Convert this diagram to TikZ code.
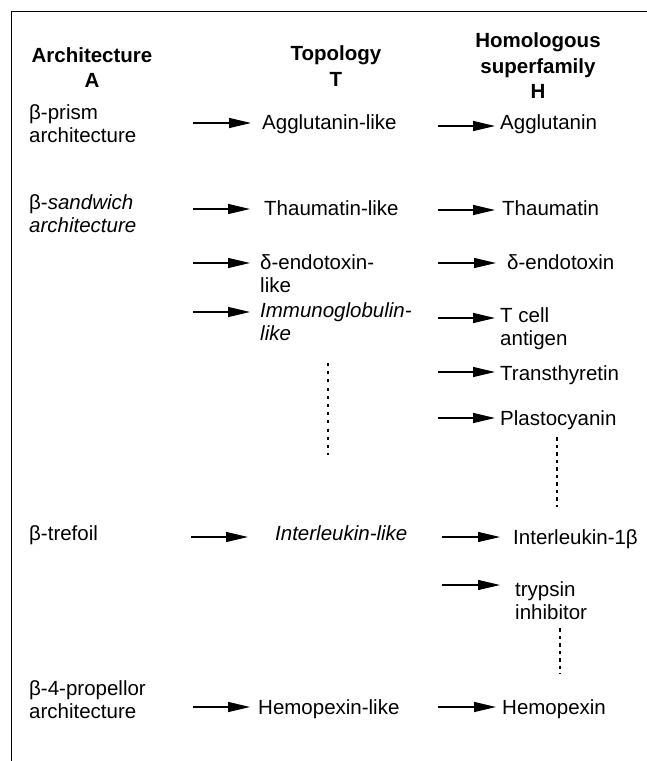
\documentclass[tikz,border=0pt]{standalone}
\usepackage{fontspec}
\setmainfont{Liberation Sans}
\usetikzlibrary{arrows.meta}
\begin{document}
\begin{tikzpicture}[x=1pt,y=-1pt,
  txt/.style={inner sep=0pt, anchor=base west, align=left, font=\fontsize{20.5}{23.5}\selectfont},
  hdr/.style={inner sep=0pt, anchor=base, align=center, font=\fontsize{20.5}{25.5}\selectfont\bfseries},
  arr/.style={line width=1.3pt, -{Triangle[length=22pt,width=10pt]}},
  dotbig/.style={line width=2.6pt, dash pattern=on 3pt off 5.2pt},
  dotsmall/.style={line width=2pt, dash pattern=on 3.5pt off 4pt},
  frame/.style={line width=1pt}]
\useasboundingbox (0,0) rectangle (647,761);
% frame
\draw[frame] (647,11.7) -- (11.7,11.7) -- (11.7,761);
% headers (base anchor = baseline of last line)
\node[hdr] (hA) at (92,87.5) {Architecture\\A};
\node[hdr] (hT) at (336,86) {Topology\\T};
\node[hdr] (hH) at (538,98.5) {Homologous\\superfamily\\H};
% architecture column
\node[txt] (a1) at (29,142.5) {β-prism\\architecture};
\node[txt] (a2) at (29,232.5) {β-\textit{sandwich}\\\textit{architecture}};
\node[txt] (a3) at (29,540) {β-trefoil};
\node[txt] (a4) at (29,718.5) {β-4-propellor\\architecture};
% topology column
\node[txt] (t1) at (262,129) {Agglutanin-like};
\node[txt] (t2) at (264,215) {Thaumatin-like};
\node[txt] (t3) at (260,292.5) {δ-endotoxin-\\like};
\node[txt] (t4) at (260,340.5) {\textit{Immunoglobulin-}\\\textit{like}};
\node[txt] (t5) at (275,540) {\textit{Interleukin-like}};
\node[txt] (t6) at (258,714) {Hemopexin-like};
% homologous superfamily column
\node[txt] (h1) at (500,129) {Agglutanin};
\node[txt] (h2) at (502,215) {Thaumatin};
\node[txt] (h3) at (507,269) {δ-endotoxin};
\node[txt] (h4) at (500,345.5) {T cell\\antigen};
\node[txt] (h5) at (500,380) {Transthyretin};
\node[txt] (h6) at (500,425) {Plastocyanin};
\node[txt] (h7) at (513,544) {Interleukin-1β};
\node[txt] (h8) at (515,619.5) {trypsin\\inhibitor};
\node[txt] (h9) at (502,714) {Hemopexin};
% arrow start points
\coordinate (s1) at (193,123);
\coordinate (s2) at (193,209);
\coordinate (s3) at (193,263);
\coordinate (s4) at (193,312);
\coordinate (s5) at (191,537);
\coordinate (s6) at (193,707);
\coordinate (r1) at (438,126);
\coordinate (r2) at (438,210);
\coordinate (r3) at (438,263);
\coordinate (r4) at (438,318);
\coordinate (r5) at (438,372);
\coordinate (r6) at (438,418);
\coordinate (r7) at (442,537);
\coordinate (r8) at (442,585);
\coordinate (r9) at (438,707);
% arrows to topology
\draw[arr, shorten >=11pt] (s1) -- (t1.west |- s1);
\draw[arr, shorten >=14pt] (s2) -- (t2.west |- s2);
\draw[arr, shorten >=10pt] (s3) -- (t3.west |- s3);
\draw[arr, shorten >=10pt] (s4) -- (t4.west |- s4);
\draw[arr, shorten >=27pt] (s5) -- (t5.west |- s5);
\draw[arr, shorten >=8pt] (s6) -- (t6.west |- s6);
% arrows to superfamilies
\draw[arr, shorten >=5pt] (r1) -- (h1.west |- r1);
\draw[arr, shorten >=7pt] (r2) -- (h2.west |- r2);
\draw[arr, shorten >=11pt] (r3) -- (h3.west |- r3);
\draw[arr, shorten >=5pt] (r4) -- (h4.west |- r4);
\draw[arr, shorten >=5pt] (r5) -- (h5.west |- r5);
\draw[arr, shorten >=5pt] (r6) -- (h6.west |- r6);
\draw[arr, shorten >=13pt] (r7) -- (h7.west |- r7);
\draw[arr, shorten >=15pt] (r8) -- (h8.west |- r8);
\draw[arr, shorten >=6pt] (r9) -- (h9.west |- r9);
% dotted continuation marks
\draw[dotbig] (328,363) -- (328,455);
\draw[dotsmall] (557,437) -- (557,507);
\draw[dotsmall] (560,628) -- (560,674);
\end{tikzpicture}
\end{document}
